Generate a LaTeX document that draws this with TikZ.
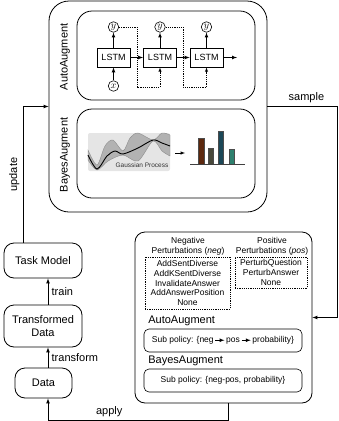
\documentclass[tikz,border=0pt]{standalone}
\usepackage{fontspec}
\setmainfont{Liberation Sans}
\usetikzlibrary{arrows}

\newcommand{\polarrow}{\tikz[baseline={(0,-0.55ex)}]\draw[-latex, line width=0.7pt] (0,0) -- (9pt,0);}

\begin{document}
\begin{tikzpicture}[x=1pt, y=-1pt, line width=0.7pt, >=latex,
	big_box/.style={draw, rounded corners=20pt, line width=0.8pt, inner sep=0pt},
	aug_box/.style={draw, rounded corners=15pt, line width=0.8pt, minimum width=178pt, minimum height=89pt},
	flow_box/.style={draw, rounded corners=10pt, line width=0.8pt, align=center, font=\fontsize{11}{13}\selectfont},
	lstm_node/.style={draw, line width=0.8pt, minimum width=33pt, minimum height=19pt, inner sep=0pt, font=\fontsize{9}{10}\selectfont},
	var_node/.style={circle, draw, line width=0.6pt, minimum size=10.5pt, inner sep=0pt, font=\fontsize{10}{10}\selectfont},
	fine_dash/.style={dash pattern=on 1.2pt off 1pt, line width=0.45pt},
	pert_box/.style={draw, fine_dash, align=center, inner sep=0pt, font=\fontsize{8.5}{9.6}\selectfont},
	pol_box/.style={draw, rounded corners=5pt, line width=0.6pt, minimum width=158pt, minimum height=23pt, font=\fontsize{8.5}{10}\selectfont},
	big_label/.style={font=\fontsize{11}{13}\selectfont}]
	\useasboundingbox (0,0) rectangle (339,421);
	\node[big_box, minimum width=218pt, minimum height=211pt](outer) at (158,106.5){};
	\node[aug_box](autobox) at (166,55.5){};
	\node[aug_box](bayesbox) at (166,153.5){};
	\node[big_label, rotate=90](autolabel) at (65,57){AutoAugment};
	\node[big_label, rotate=90](bayeslabel) at (65,155){BayesAugment};
	\node[lstm_node](lstm1) at (113.5,57.5){LSTM};
	\node[lstm_node](lstm2) at (160,57.5){LSTM};
	\node[lstm_node](lstm3) at (206.5,57.5){LSTM};
	\node[var_node](y1) at (113.5,27){$y$};
	\node[var_node](y2) at (160,27){$y$};
	\node[var_node](y3) at (206.5,27){$y$};
	\node[var_node](x1) at (113.5,86){$x$};
	\coordinate (out) at (237,57.5);
	\draw[->] (x1) -- (lstm1);
	\draw[->] (lstm1) -- (y1);
	\draw[->] (lstm2) -- (y2);
	\draw[->] (lstm3) -- (y3);
	\draw[->] (lstm1) -- (lstm2);
	\draw[->] (lstm2) -- (lstm3);
	\draw[->] (lstm3) -- (out);
	\draw[->, fine_dash] (y1.east) -| (137,87) -| (lstm2.south);
	\draw[->, fine_dash] (y2.east) -| (183,87) -| (lstm3.south);
	\fill[rounded corners=2pt, black!10] (88,133) rectangle (170,171);
	\fill[black!30, draw=black!45, line width=0.4pt] plot[smooth] coordinates {(88,150) (97,165) (105,146) (113,140) (123,151) (130,138) (138,133) (153,140) (162,133) (170,135)} -- plot[smooth] coordinates {(170,156) (162,151) (153,141) (138,161) (123,155) (108,161) (97,170) (88,160)} -- cycle;
	\draw[line width=0.9pt] plot[smooth] coordinates {(88,155) (97,169) (107,156) (115,151) (123,154) (138,148) (153,140) (162,143) (170,146)};
	\node[font=\fontsize{6.5}{7}\selectfont, text=black!80](gptext) at (142,165){Gaussian Process};
	\draw[->, line width=0.5pt] (175,153) -- (185,153);
	\fill[draw=black!70, line width=0.3pt, fill={rgb,255:red,92;green,40;blue,14}] (198.5,138) rectangle (204,164);
	\fill[draw=black!70, line width=0.3pt, fill={rgb,255:red,72;green,72;blue,58}] (208,148) rectangle (213.5,164);
	\fill[draw=black!70, line width=0.3pt, fill={rgb,255:red,28;green,72;blue,88}] (218,131) rectangle (223.5,164);
	\fill[draw=black!70, line width=0.3pt, fill={rgb,255:red,46;green,128;blue,110}] (229,149) rectangle (234.5,164);
	\draw[line width=0.8pt, black!75] (190,164) -- (245,164);
	\node[flow_box, minimum width=78pt, minimum height=35pt](task) at (43,260.5){Task Model};
	\node[flow_box, minimum width=78pt, minimum height=42pt](trans) at (43,326){Transformed\\Data};
	\node[flow_box, minimum width=57pt, minimum height=30pt](data) at (43.5,383){Data};
	\node[draw, rounded corners=10pt, line width=0.8pt, minimum width=177pt, minimum height=171pt](policy) at (223.5,317.5){};
	\node[align=center, font=\fontsize{8.5}{10}\selectfont](neglabel) at (188,246){Negative\\Perturbations (\textit{neg})};
	\node[align=center, font=\fontsize{8.5}{10}\selectfont](poslabel) at (272,246){Positive\\Perturbations (\textit{pos})};
	\node[pert_box, minimum width=85pt, minimum height=52pt](negbox) at (187.5,283){AddSentDiverse\\AddKSentDiverse\\InvalidateAnswer\\AddAnswerPosition\\None};
	\node[pert_box, minimum width=72pt, minimum height=31pt](posbox) at (271,272.5){PerturbQuestion\\PerturbAnswer\\None};
	\node[big_label, anchor=west, inner sep=0pt](autotitle) at (148,321){AutoAugment};
	\node[pol_box](autopol) at (223,340.5){Sub policy: \{neg\,\polarrow\,pos\,\polarrow\,probability\}};
	\node[big_label, anchor=west, inner sep=0pt](bayestitle) at (148,361){BayesAugment};
	\node[pol_box](bayespol) at (223,380.5){Sub policy: \{neg-pos, probability\}};
	\draw[->] ([xshift=5pt]trans.north) -- node[right, big_label]{train} ([xshift=5pt]task.south);
	\draw[->] ([xshift=4.5pt]data.north) -- node[right, big_label]{transform} ([xshift=5pt]trans.south);
	\draw[->] ([xshift=-20pt]task.north) |- node[pos=0.25, above, sloped, big_label]{update} (outer.west);
	\draw[->] (outer.east) -- node[above, big_label, xshift=4pt]{sample} ++(70,0) |- (policy.east);
	\draw[->] ([xshift=4.5pt]policy.south) -- ++(0,17) -| node[pos=0.33, above, big_label]{apply} ([xshift=4.5pt]data.south);
\end{tikzpicture}
\end{document}
